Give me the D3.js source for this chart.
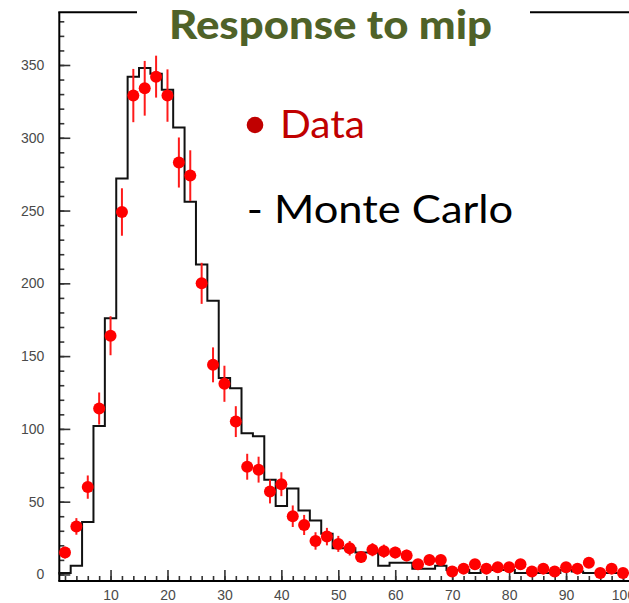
<!DOCTYPE html>
<html>
<head>
<meta charset="utf-8">
<script src="https://cdn.jsdelivr.net/npm/d3@7"></script>
<style>
  html, body { margin: 0; padding: 0; background: #ffffff; }
  svg { display: block; }
</style>
</head>
<body>
<svg id="chart" width="629" height="603"></svg>
<script>
// Measured response, bins of width 2 centred on even values
const dataX = [2,4,6,8,10,12,14,16,18,20,22,24,26,28,30,32,34,36,38,40,
               42,44,46,48,50,52,54,56,58,60,62,64,66,68,70,72,74,76,78,80,
               82,84,86,88,90,92,94,96,98,100];
const dataY = [15,33,60,114,164,249,329,334,342,329,283,274,200,144,131,105,74,72,57,62,
               40,34,23,26,21,18,12,17,16,15,13,7,10,10,2,4,7,4,5,5,
               7,2,4,2,5,4,8,1,4,1];
const dataErr = [4,5.7,8,11,13.4,16.3,18.3,18.8,14.4,18,17.2,17.4,14.1,12,12.4,10.6,8.9,8.9,8.2,8.2,
                 7.4,6.9,6,6,5.5,5,4,4.5,4.5,4,4,3,3.5,3.5,2,2.5,3,2.5,2.5,2.5,
                 3,2,2.5,2,2.5,2.5,3,1.5,2.5,1.5];

// Monte Carlo histogram: lower bin edges and contents
const mcLow = [1,3,5,7,9,11,13,15,17,19,21,23,25,27,29,31,33,35,37,39,
               41,43,45,47,49,51,53,55,57,59,61,63,65,67,69,71,73,75,77,79,
               81,83,85,87,89,91,93,95,97,99];
const mcCounts = [1,6,36,102,176,272,342,348,344,333,307,256,213,188,135,128,97,95,65,47,
                  59,44,37,28,18,18,15,15,6,8,8,4,4,6,3,3,1,3,3,3,
                  1,1,1,1,3,2,1,1,1,1];
const binWidth = 2;

const yMajor = [0,50,100,150,200,250,300,350];
const yMinor = d3.range(0, 390, 10);
const xMajor = [10,20,30,40,50,60,70,80,90,100];
const xMinor = d3.range(2, 101, 2);

const titleText = "Response to mip";
const legendData = "Data";
const legendMC = "- Monte Carlo";

const W = 629;
const svg = d3.select("#chart");

const x = d3.scaleLinear().domain([1, 101]).range([59.3, 628.7]);
const y = d3.scaleLinear().domain([-4.5, 386.2]).range([581, 12.3]);

// Axes (ticks point into the frame)
const axisFont = "'Liberation Sans', Arial, sans-serif";

const yMinorAxis = d3.axisLeft(y).tickValues(yMinor).tickSize(-5).tickFormat("");
const yMajorAxis = d3.axisLeft(y).tickValues(yMajor).tickSize(-11).tickPadding(15);
const xMinorAxis = d3.axisBottom(x).tickValues(xMinor).tickSize(-5).tickFormat("");
const xMajorAxis = d3.axisBottom(x).tickValues(xMajor).tickSize(-11).tickPadding(9);

function styleAxis(g) {
  g.select(".domain").remove();
  g.selectAll(".tick line").attr("stroke", "#333").attr("stroke-width", 1.6);
  g.selectAll(".tick text")
    .attr("fill", "#4a4a4a")
    .style("font-family", axisFont)
    .style("font-size", "14px");
}

svg.append("g").attr("transform", `translate(${x.range()[0]},0)`).call(yMinorAxis).call(styleAxis);
svg.append("g").attr("transform", `translate(${x.range()[0]},0)`).call(yMajorAxis).call(styleAxis);
svg.append("g").attr("transform", `translate(0,${y.range()[0]})`).call(xMinorAxis).call(styleAxis);
svg.append("g").attr("transform", `translate(0,${y.range()[0]})`).call(xMajorAxis).call(styleAxis);

// Frame: left, bottom and top edges (the right edge runs past the canvas)
const x0 = x.range()[0];
const [yb, yt] = y.range();
const frame = svg.append("g").attr("stroke", "#000").attr("stroke-width", 2).attr("fill", "none");
frame.append("line").attr("x1", x0).attr("x2", x0).attr("y1", yt).attr("y2", yb);
frame.append("line").attr("x1", x0 - 1).attr("x2", W).attr("y1", yb).attr("y2", yb);
frame.append("line").attr("x1", x0 - 1).attr("x2", W).attr("y1", yt).attr("y2", yt);

// Monte Carlo step histogram
const stepPts = [];
mcLow.forEach((lo, i) => {
  stepPts.push([lo, mcCounts[i]]);
  stepPts.push([lo + binWidth, mcCounts[i]]);
});
const stepLine = d3.line().x(d => x(d[0])).y(d => y(d[1]));
const histPath = [[mcLow[0], 0], ...stepPts];
svg.append("path")
  .attr("d", stepLine(histPath))
  .attr("fill", "none")
  .attr("stroke", "#111")
  .attr("stroke-width", 2)
  .attr("stroke-linejoin", "miter");

// Data points with error bars
const pts = svg.append("g");
pts.selectAll("line.err")
  .data(dataX)
  .join("line")
  .attr("class", "err")
  .attr("x1", d => x(d)).attr("x2", d => x(d))
  .attr("y1", (d, i) => y(Math.max(dataY[i] - dataErr[i], -4.5)))
  .attr("y2", (d, i) => y(dataY[i] + dataErr[i]))
  .attr("stroke", "#ff1a1a")
  .attr("stroke-width", 2);
pts.selectAll("circle")
  .data(dataX)
  .join("circle")
  .attr("cx", d => x(d))
  .attr("cy", (d, i) => y(dataY[i]))
  .attr("r", 6)
  .attr("fill", "#ff0000");

// Title on a white band that interrupts the top of the frame
svg.append("rect")
  .attr("x", 137).attr("y", 0).attr("width", 393).attr("height", 52)
  .attr("fill", "#ffffff");

const textFont = "Lato, 'Open Sans', sans-serif";

function fitText(sel, width) {
  sel.attr("textLength", width).attr("lengthAdjust", "spacingAndGlyphs");
}

svg.append("text")
  .attr("x", 169).attr("y", 38.5)
  .style("font-family", textFont)
  .style("font-weight", "900")
  .style("font-size", "39px")
  .attr("fill", "#4f6228")
  .text(titleText)
  .call(fitText, 323);

// Legend
svg.append("circle")
  .attr("cx", 255).attr("cy", 125).attr("r", 8.3)
  .attr("fill", "#c00000");
svg.append("text")
  .attr("x", 280).attr("y", 138.3)
  .style("font-family", textFont)
  .style("font-size", "39px")
  .attr("fill", "#c00000")
  .text(legendData)
  .call(fitText, 85);
svg.append("text")
  .attr("x", 246.7).attr("y", 223.3)
  .style("font-family", textFont)
  .style("font-size", "39px")
  .attr("fill", "#000000")
  .text(legendMC)
  .call(fitText, 266.6);
</script>
</body>
</html>
